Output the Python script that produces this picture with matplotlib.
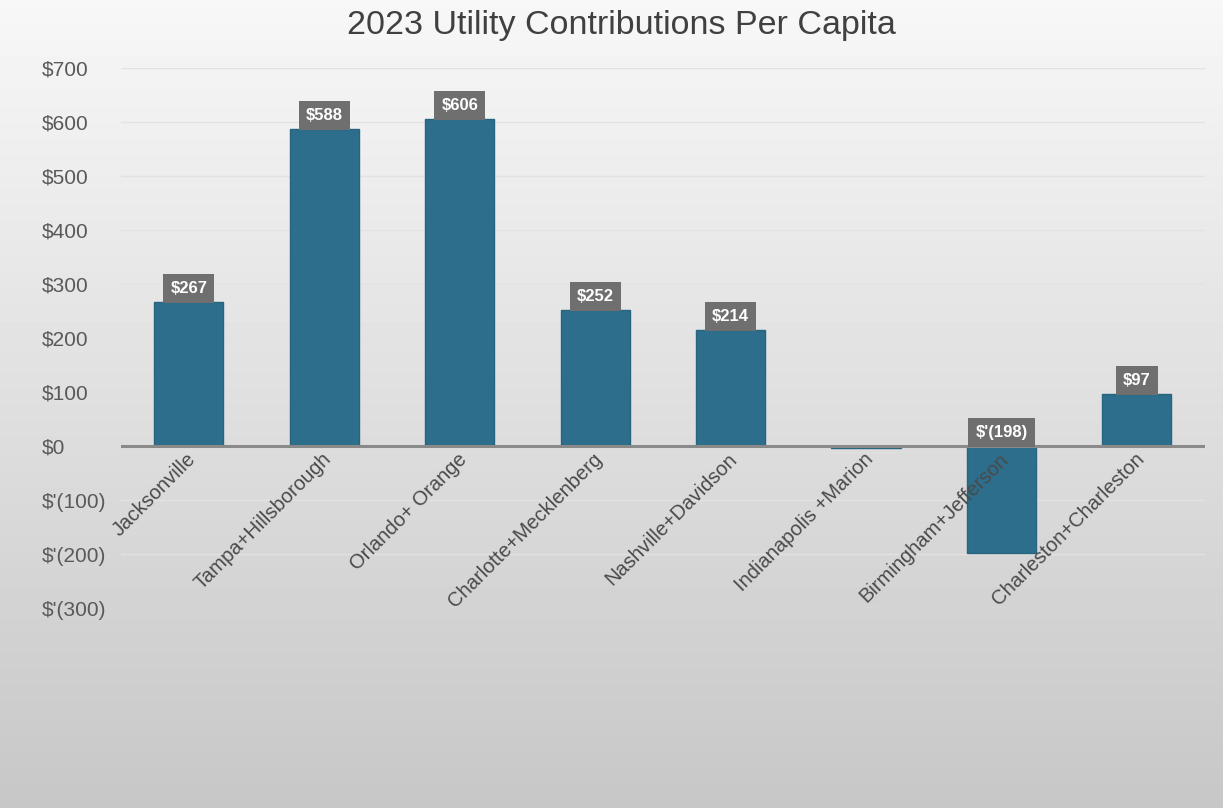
import numpy as np
import matplotlib
matplotlib.use("Agg")
import matplotlib.pyplot as plt

plt.rcParams['font.family'] = ['Liberation Sans', 'DejaVu Sans']

# ─── Data ─────────────────────────────────────────────────────────────────────
cities = ["Jacksonville", "Tampa+Hillsborough", "Orlando+ Orange",
          "Charlotte+Mecklenberg", "Nashville+Davidson", "Indianapolis +Marion",
          "Birmingham+Jefferson", "Charleston+Charleston"]
per_capita = [267, 588, 606, 252, 214, -4, -198, 97]
show_label = [True, True, True, True, True, False, True, True]
y_ticks = [700, 600, 500, 400, 300, 200, 100, 0, -100, -200, -300]


def money(v):
    return f"${v:,.0f}" if v >= 0 else f"$'({abs(v):,.0f})"


# ─── Figure with gradient background ──────────────────────────────────────────
fig = plt.figure(figsize=(12.23, 8.08), dpi=100)
bg = fig.add_axes([0, 0, 1, 1], zorder=-10)
grad = np.linspace(0.97, 0.78, 256)[:, None]
bg.imshow(np.repeat(grad, 2, axis=1), cmap="gray", vmin=0, vmax=1,
          aspect="auto", extent=[0, 1, 0, 1])
bg.axis("off")

ax = fig.add_axes([0.099, 0.2475, 0.886, 0.6683])
ax.patch.set_alpha(0)

x = np.arange(len(cities))
ax.bar(x, per_capita, width=0.51, color="#2d6e8c", edgecolor="#27647f",
       linewidth=1.0, zorder=3)

# value labels in grey boxes
for xi, v, show in zip(x, per_capita, show_label):
    if not show:
        continue
    ax.text(xi, max(v, 0) + 25, money(v), ha="center", va="center",
            color="white", fontsize=12, fontweight="bold", zorder=5,
            bbox=dict(boxstyle="square,pad=0.42", fc="#6f6f6f", ec="none"))

# category labels hang from the zero line
for xi, name in zip(x, cities):
    ax.text(xi + 0.03, -19, name, rotation=45, rotation_mode="anchor",
            ha="right", va="center", fontsize=14.5, color="#4a4a4a")

ax.set_xlim(-0.5, len(cities) - 0.5)
ax.set_ylim(-300, 700)
ax.set_yticks(y_ticks)
ax.set_yticklabels([money(t) for t in y_ticks], fontsize=15, color="#595959",
                   ha="left")
ax.tick_params(axis="y", length=0, pad=57)
ax.set_xticks([])
for yt in y_ticks:
    if yt != 0:
        ax.axhline(yt, color="#e2e2e2", lw=1.0, zorder=1)
ax.axhline(0, color="#8a8a8a", lw=2.2, zorder=4)
for s in ax.spines.values():
    s.set_visible(False)

fig.text(0.508, 0.969, "2023 Utility Contributions Per Capita", ha="center",
         va="center", fontsize=24.5, color="#404040")

fig.savefig("out.png", dpi=100)
